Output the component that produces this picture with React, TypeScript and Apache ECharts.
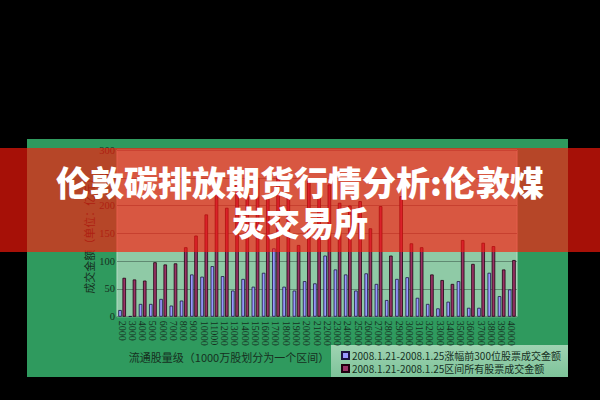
import React, { useEffect, useRef } from "react";
import * as echarts from "echarts";

const categories = [
  "2000", "3000", "4000", "5000", "6000", "7000", "8000", "9000", "10000", "11000",
  "12000", "13000", "14000", "15000", "16000", "17000", "18000", "19000", "20000", "21000",
  "22000", "23000", "24000", "25000", "26000", "27000", "28000", "29000", "30000", "31000",
  "32000", "33000", "34000", "35000", "36000", "37000", "38000", "39000", "40000",
];

// 2008.1.21-2008.1.25 涨幅前300位股票成交金额
const top300Values = [
  12, 1, 23, 23, 32, 20, 29, 76, 72, 91,
  73, 47, 68, 54, 79, 123, 54, 47, 64, 60,
  110, 85, 76, 47, 78, 59, 30, 68, 71, 34,
  23, 15, 27, 64, 16, 16, 79, 37, 49,
];

// 2008.1.21-2008.1.25 区间所有股票成交金额
const allStockValues = [
  70, 67, 65, 98, 94, 96, 125, 146, 184, 222,
  196, 240, 222, 250, 218, 268, 215, 129, 245, 246,
  238, 205, 200, 208, 159, 199, 110, 217, 132, 125,
  76, 66, 59, 138, 95, 133, 127, 85, 102,
];

const seriesNames = [
  "2008.1.21-2008.1.25涨幅前300位股票成交金额",
  "2008.1.21-2008.1.25区间所有股票成交金额",
];

const titleLines = ["伦敦碳排放期货行情分析:伦敦煤", "炭交易所"];
const xAxisName = "流通股量级（1000万股划分为一个区间）";
const yAxisName = "成交金额（单位：亿元）";

const FONT = "'Liberation Serif', 'Noto Sans CJK SC', serif";
const LABEL_COLOR = "#16301f";

export default function App() {
  const ref = useRef<HTMLDivElement>(null);

  useEffect(() => {
    if (!ref.current) return;
    const chart = echarts.init(ref.current, undefined, { renderer: "svg" });
    chart.setOption({
      animation: false,
      backgroundColor: "#000000",
      grid: {
        left: 117,
        top: 150,
        width: 400,
        height: 166.7,
        show: true,
        backgroundColor: "#8fcaa6",
        borderColor: "#b8dcc6",
        borderWidth: 1,
      },
      legend: {
        orient: "vertical",
        left: 336,
        top: 345,
        itemWidth: 7,
        itemHeight: 7,
        itemGap: 2,
        icon: "rect",
        textStyle: {
          fontSize: 10,
          lineHeight: 11,
          fontFamily: "'Noto Sans CJK SC'",
          color: LABEL_COLOR,
          padding: [0, 0, 0, -2],
        },
        data: seriesNames,
      },
      xAxis: {
        type: "category",
        data: categories,
        axisTick: { show: false },
        axisLine: { show: true, lineStyle: { color: "#6f8f7a" } },
        axisLabel: {
          interval: 0,
          rotate: -90,
          fontSize: 10,
          fontFamily: FONT,
          color: LABEL_COLOR,
          margin: 4,
        },
      },
      yAxis: {
        type: "value",
        min: 0,
        max: 300,
        interval: 50,
        name: yAxisName,
        nameLocation: "middle",
        nameRotate: 90,
        nameGap: 23,
        nameMoveOverlap: false,
        nameTextStyle: { fontSize: 11, fontFamily: "'Noto Sans CJK SC'", color: LABEL_COLOR },
        axisLine: { show: false },
        axisTick: { show: false },
        axisLabel: { fontSize: 10.5, fontFamily: FONT, color: LABEL_COLOR, margin: 2 },
        splitLine: { lineStyle: { color: "rgba(40,60,50,0.45)", width: 1 } },
      },
      series: [
        {
          name: seriesNames[0],
          type: "bar",
          data: top300Values,
          barWidth: 3.5,
          barGap: "20%",
          itemStyle: { color: "#9999ff", borderColor: "#1c1440", borderWidth: 0.8 },
        },
        {
          name: seriesNames[1],
          type: "bar",
          data: allStockValues,
          barWidth: 3.5,
          itemStyle: { color: "#993366", borderColor: "#200010", borderWidth: 0.8 },
        },
      ],
      graphic: [
        {
          type: "rect",
          z: -10,
          shape: { x: 27, y: 139, width: 541, height: 238 },
          style: { fill: "#2f9a5e" },
        },
        {
          type: "rect",
          z: -9,
          shape: { x: 331, y: 345, width: 237, height: 32 },
          style: {
            fill: new echarts.graphic.LinearGradient(0, 0, 0, 1, [
              { offset: 0, color: "#9fd3b2" },
              { offset: 1, color: "#7ec39a" },
            ]),
          },
        },
        {
          type: "text",
          z: 5,
          x: 229,
          y: 357,
          style: {
            text: xAxisName,
            fontSize: 11,
            fontFamily: "'Noto Sans CJK SC'",
            fill: LABEL_COLOR,
            align: "center",
            verticalAlign: "middle",
          },
        },
        {
          type: "rect",
          z: 100,
          shape: { x: 0, y: 148, width: 600, height: 104 },
          style: { fill: "rgba(255,25,10,0.65)" },
        },
        {
          type: "text",
          z: 101,
          x: 300,
          y: 181,
          style: {
            text: titleLines[0],
            fontSize: 34,
            fontWeight: 900,
            fontFamily: "'Noto Sans CJK SC'",
            fill: "#ffffff",
            align: "center",
            verticalAlign: "middle",
          },
        },
        {
          type: "text",
          z: 101,
          x: 300,
          y: 221,
          style: {
            text: titleLines[1],
            fontSize: 34,
            fontWeight: 900,
            fontFamily: "'Noto Sans CJK SC'",
            fill: "#ffffff",
            align: "center",
            verticalAlign: "middle",
          },
        },
      ],
    });
    return () => chart.dispose();
  }, []);

  return (
    <div
      ref={ref}
      style={{ position: "fixed", left: 0, top: 0, width: 600, height: 400, background: "#000" }}
    />
  );
}
